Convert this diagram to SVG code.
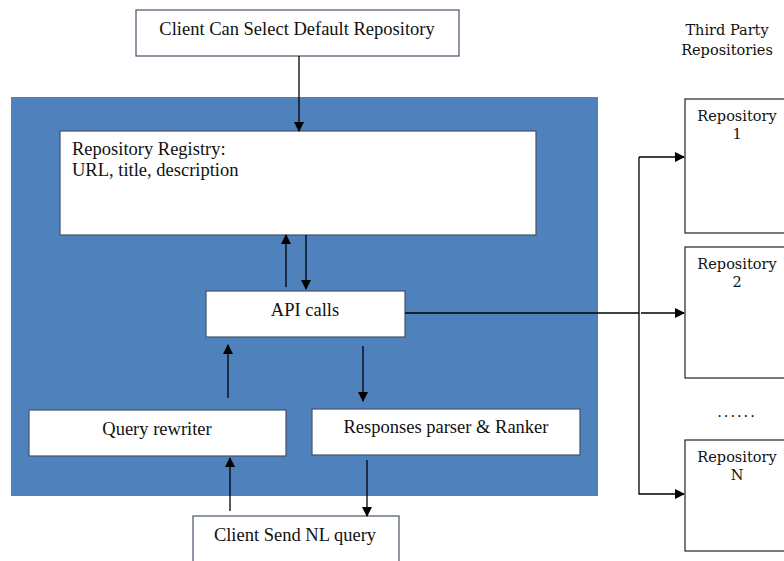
<svg xmlns="http://www.w3.org/2000/svg" width="784" height="561" viewBox="0 0 784 561">
<defs>
<marker id="ah" markerWidth="10" markerHeight="10" refX="9" refY="5" orient="auto" markerUnits="userSpaceOnUse">
<path d="M0,0 L10,5 L0,10 Z" fill="#000"/>
</marker>
<style>
.box{fill:#fff;stroke:#44546a;stroke-width:1.2}
.rbox{fill:#fff;stroke:#222;stroke-width:1.2}
.t{font-family:"Liberation Serif",serif;font-size:18.5px;fill:#111}
.c{font-family:"DejaVu Serif","Liberation Serif",serif;font-size:14.5px;fill:#111}
.ln{stroke:#000;stroke-width:1.3;fill:none}
</style>
</defs>
<rect width="784" height="561" fill="#fff"/>
<rect id="container" x="11" y="97" width="587" height="399" fill="#4f81bd"/>
<g id="n-select"><rect class="box" x="136" y="10" width="323" height="46"/><text class="t" x="297" y="35" text-anchor="middle">Client Can Select Default Repository</text></g>
<g id="n-registry"><rect class="box" x="60" y="131" width="476" height="104"/><text class="t" x="72" y="155">Repository Registry:</text><text class="t" x="72" y="176">URL, title, description</text></g>
<g id="n-api"><rect class="box" x="206" y="291" width="199" height="46"/><text class="t" x="305" y="316" text-anchor="middle">API calls</text></g>
<g id="n-rewriter"><rect class="box" x="29" y="410" width="257" height="46"/><text class="t" x="157" y="435" text-anchor="middle">Query rewriter</text></g>
<g id="n-parser"><rect class="box" x="312" y="409" width="268" height="46"/><text class="t" x="446" y="433" text-anchor="middle">Responses parser &amp; Ranker</text></g>
<g id="n-client"><rect class="box" x="193" y="516" width="206" height="50"/><text class="t" x="295" y="541" text-anchor="middle">Client Send NL query</text></g>
<g id="n-third"><text class="c" x="727" y="35" text-anchor="middle">Third Party</text><text class="c" x="727" y="55" text-anchor="middle">Repositories</text></g>
<g id="n-repo1"><rect class="rbox" x="685" y="99" width="105" height="134"/><text class="c" x="737" y="121" text-anchor="middle">Repository</text><text class="c" x="737" y="139" text-anchor="middle">1</text></g>
<g id="n-repo2"><rect class="rbox" x="685" y="247" width="105" height="131"/><text class="c" x="737" y="269" text-anchor="middle">Repository</text><text class="c" x="737" y="287" text-anchor="middle">2</text></g>
<g id="n-dots"><text class="c" x="737" y="417" text-anchor="middle" letter-spacing="2">......</text></g>
<g id="n-repoN"><rect class="rbox" x="685" y="440" width="105" height="111"/><text class="c" x="737" y="462" text-anchor="middle">Repository</text><text class="c" x="737" y="480" text-anchor="middle">N</text></g>
<g id="connectors">
<line class="ln" x1="299" y1="56" x2="299" y2="131" marker-end="url(#ah)"/>
<line class="ln" x1="286" y1="287" x2="286" y2="235" marker-end="url(#ah)"/>
<line class="ln" x1="306" y1="235" x2="306" y2="289" marker-end="url(#ah)"/>
<line class="ln" x1="228" y1="398" x2="228" y2="345" marker-end="url(#ah)"/>
<line class="ln" x1="363" y1="346" x2="363" y2="401" marker-end="url(#ah)"/>
<line class="ln" x1="230" y1="511" x2="230" y2="458" marker-end="url(#ah)"/>
<line class="ln" x1="367" y1="460" x2="367" y2="516" marker-end="url(#ah)"/>
<path class="ln" d="M405,313 H639"/>
<path class="ln" d="M639,157 V494 H684" marker-end="url(#ah)"/>
<line class="ln" x1="639" y1="157" x2="684" y2="157" marker-end="url(#ah)"/>
<line class="ln" x1="641" y1="313" x2="684" y2="313" marker-end="url(#ah)"/>
</g>
</svg>
